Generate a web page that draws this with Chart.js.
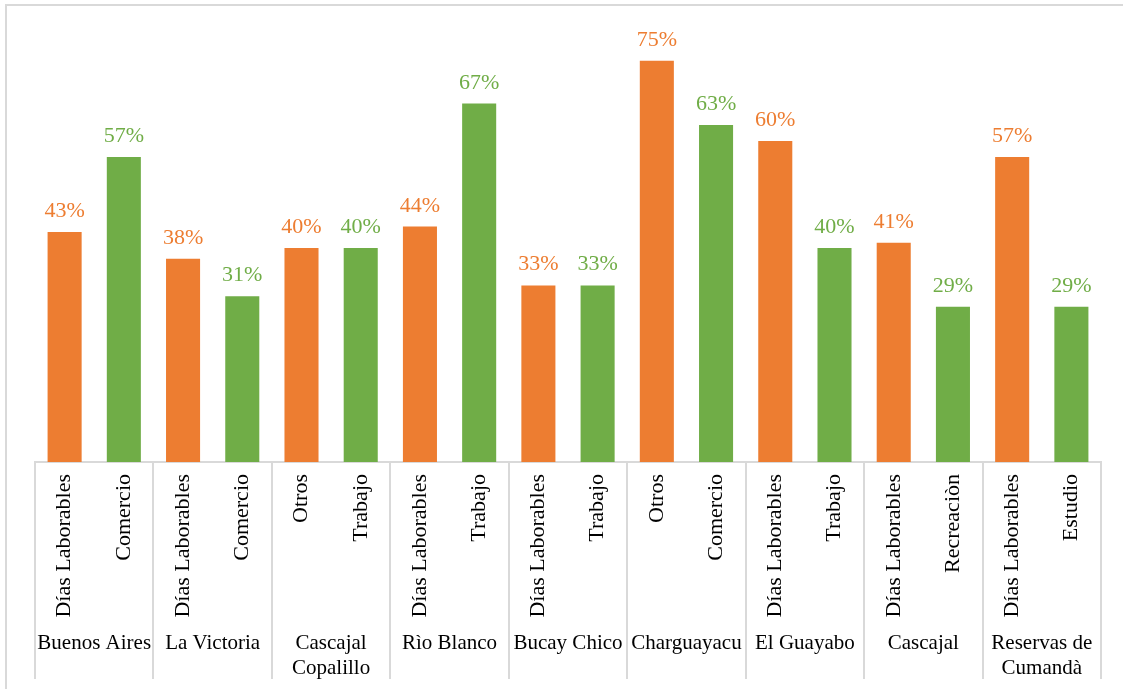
<!DOCTYPE html>
<html>
<head>
<meta charset="utf-8">
<script src="https://cdn.jsdelivr.net/npm/chart.js@4/dist/chart.umd.min.js"></script>
<style>
  html, body { margin: 0; padding: 0; background: #fff; }
  #marco { position: absolute; left: 5px; top: 4px; width: 1118px; height: 685px;
           border-left: 2px solid #d9d9d9; border-top: 2px solid #d9d9d9; }
  #lienzo { position: absolute; left: 0; top: 0; }
</style>
</head>
<body>
<div id="marco"></div>
<canvas id="lienzo" width="1123" height="689"></canvas>
<script>
// Datos del gráfico
const categorias = [
  "Días Laborables", "Comercio",
  "Días Laborables", "Comercio",
  "Otros", "Trabajo",
  "Días Laborables", "Trabajo",
  "Días Laborables", "Trabajo",
  "Otros", "Comercio",
  "Días Laborables", "Trabajo",
  "Días Laborables", "Recreaciòn",
  "Días Laborables", "Estudio"
];
const grupos = [
  ["Buenos Aires"], ["La Victoria"], ["Cascajal", "Copalillo"], ["Rìo Blanco"],
  ["Bucay Chico"], ["Charguayacu"], ["El Guayabo"], ["Cascajal"], ["Reservas de", "Cumandà"]
];
const porcentajes = [43, 57, 38, 31, 40, 40, 44, 67, 33, 33, 75, 63, 60, 40, 41, 29, 57, 29];
const coloresSerie = ["#ED7D31", "#70AD47"];

const colores = porcentajes.map((v, i) => coloresSerie[i % 2]);
const FUENTE = "'Liberation Serif', 'Times New Roman', serif";

// Etiquetas de datos encima de cada barra
const etiquetasDatos = {
  id: "etiquetasDatos",
  afterDatasetsDraw(chart) {
    const ctx = chart.ctx;
    const meta = chart.getDatasetMeta(0);
    ctx.save();
    ctx.font = "22px " + FUENTE;
    ctx.textAlign = "center";
    ctx.textBaseline = "alphabetic";
    meta.data.forEach((bar, i) => {
      ctx.fillStyle = colores[i];
      ctx.fillText(porcentajes[i] + "%", bar.x, bar.y - 15);
    });
    ctx.restore();
  }
};

// Separadores y nombres de grupo del eje X
const ejeGrupos = {
  id: "ejeGrupos",
  afterDraw(chart) {
    const ctx = chart.ctx;
    const x = chart.scales.x;
    const base = chart.chartArea.bottom;
    const paso = x.getPixelForValue(1) - x.getPixelForValue(0);
    ctx.save();
    ctx.strokeStyle = "#d9d9d9";
    ctx.lineWidth = 2;
    for (let g = 0; g <= grupos.length; g++) {
      const px = Math.round(x.getPixelForValue(g * 2) - paso / 2);
      ctx.beginPath();
      ctx.moveTo(px, base);
      ctx.lineTo(px, 679);
      ctx.stroke();
    }
    ctx.fillStyle = "#000";
    ctx.font = "21px " + FUENTE;
    ctx.textAlign = "center";
    ctx.textBaseline = "alphabetic";
    grupos.forEach((lineas, g) => {
      const cx = (x.getPixelForValue(g * 2) + x.getPixelForValue(g * 2 + 1)) / 2;
      lineas.forEach((t, k) => {
        ctx.fillText(t, cx, base + 187 + k * 25);
      });
    });
    ctx.restore();
  }
};

new Chart(document.getElementById("lienzo"), {
  type: "bar",
  data: {
    labels: categorias,
    datasets: [{
      data: porcentajes,
      backgroundColor: colores,
      borderWidth: 0,
      categoryPercentage: 1,
      barPercentage: 0.575
    }]
  },
  options: {
    responsive: false,
    animation: false,
    layout: { padding: { left: 35, right: 22, top: 34, bottom: 0 } },
    plugins: {
      legend: { display: false },
      tooltip: { enabled: false }
    },
    scales: {
      x: {
        grid: { display: false, drawTicks: false },
        border: { display: true, color: "#d9d9d9", width: 2 },
        ticks: {
          autoSkip: false,
          minRotation: 90,
          maxRotation: 90,
          padding: 12,
          color: "#000",
          font: { family: FUENTE, size: 22 }
        },
        afterFit(scale) { scale.height = 689 - 462; }
      },
      y: {
        display: false,
        min: 0,
        max: 80
      }
    }
  },
  plugins: [etiquetasDatos, ejeGrupos]
});
</script>
</body>
</html>
